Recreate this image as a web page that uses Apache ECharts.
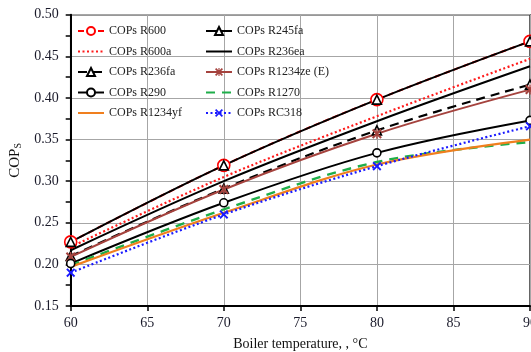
<!DOCTYPE html>
<html><head><meta charset="utf-8">
<script src="https://cdn.jsdelivr.net/npm/echarts@6/dist/echarts.min.js"></script>
<style>html,body{margin:0;padding:0;background:#fff}#c{width:531px;height:352px}</style>
</head><body><div id="c"></div>
<script>
const temps = [60, 70, 80, 90];
const xTicks = [60, 65, 70, 75, 80, 85, 90];
const yTicks = [0.15, 0.20, 0.25, 0.30, 0.35, 0.40, 0.45, 0.50];
const R600    = [0.227, 0.319, 0.398, 0.468];
const R245fa  = [0.227, 0.319, 0.398, 0.468];
const R600a   = [0.221, 0.305, 0.378, 0.447];
const R236ea  = [0.217, 0.300, 0.372, 0.438];
const R236fa  = [0.210, 0.291, 0.361, 0.416];
const R1234ze = [0.209, 0.290, 0.357, 0.410];
const R290    = [0.201, 0.274, 0.334, 0.373];
const R1270   = [0.199, 0.266, 0.323, 0.347];
const R1234yf = [0.197, 0.262, 0.320, 0.350];
const RC318   = [0.190, 0.260, 0.318, 0.366];

const pair = arr => temps.map((t, i) => [t, arr[i]]);
const FONT = 'Liberation Serif';
const XPATH = 'path://M0,1.5L1.5,0L5,3.5L8.5,0L10,1.5L6.5,5L10,8.5L8.5,10L5,6.5L1.5,10L0,8.5L3.5,5Z';
const STAR = 'path://M0,1.5L1.5,0L5,3.5L8.5,0L10,1.5L6.5,5L10,8.5L8.5,10L5,6.5L1.5,10L0,8.5L3.5,5Z M4.3,0L5.7,0L5.7,10L4.3,10Z';

function ser(name, data, color, type, width, symbol, size, hollow) {
  return {
    name: name, type: 'line', data: pair(data), smooth: 0.35,
    showSymbol: !!symbol, symbol: symbol || 'none', symbolSize: size || 0,
    lineStyle: { color: color, width: width, type: type },
    itemStyle: hollow ? { color: '#fff', borderColor: color, borderWidth: 1.6 } : { color: color, borderWidth: 0 },
    emphasis: { disabled: true }, animation: false
  };
}

const series = [
  ser('COPs R600', R600, '#ff0000', [6, 4], 2, 'circle', 12, true),
  ser('COPs R600a', R600a, '#ff1a1a', [2, 2.5], 2.2, null),
  ser('COPs R236ea', R236ea, '#000000', 'solid', 2, null),
  ser('COPs R236fa', R236fa, '#000000', [9, 6], 2.2, 'triangle', 9, true),
  ser('COPs R1234ze (E)', R1234ze, '#a5433e', 'solid', 2, STAR, 10, false),
  ser('COPs R290', R290, '#000000', 'solid', 2, 'circle', 8, true),
  ser('COPs R1270', R1270, '#1fae4a', [9, 7], 2.4, null),
  ser('COPs R1234yf', R1234yf, '#f07f1e', 'solid', 2.2, null),
  ser('COPs RC318', RC318, '#1a1aff', [2, 2.5], 2.2, XPATH, 9, false),
  ser('COPs R245fa', R245fa, '#000000', 'solid', 2, 'triangle', 9, true)
];

const noSym = new Set(['COPs R600a', 'COPs R236ea', 'COPs R1270', 'COPs R1234yf']);
const item = n => noSym.has(n) ? { name: n, itemStyle: { opacity: 0 } } : { name: n };

const legendBase = {
  orient: 'vertical', itemWidth: 26, itemHeight: 10, itemGap: 8.5, padding: 0,
  textStyle: { fontFamily: FONT, fontSize: 12, color: '#222' },
  selectedMode: false, top: 25
};

const chart = echarts.init(document.getElementById('c'), null, { renderer: 'canvas' });
chart.setOption({
  backgroundColor: '#fff',
  animation: false,
  grid: { left: 70.7, right: 1, top: 14.7, bottom: 46, show: true, borderColor: '#333', borderWidth: 1.5,
          backgroundColor: 'transparent', outerBoundsMode: 'none', containLabel: false },
  legend: [
    Object.assign({}, legendBase, { left: 77, data: ['COPs R600', 'COPs R600a', 'COPs R236fa', 'COPs R290', 'COPs R1234yf'].map(item) }),
    Object.assign({}, legendBase, { left: 205, data: ['COPs R245fa', 'COPs R236ea', 'COPs R1234ze (E)', 'COPs R1270', 'COPs RC318'].map(item) })
  ],
  xAxis: {
    type: 'value', min: xTicks[0], max: xTicks[xTicks.length - 1], interval: 5,
    name: 'Boiler temperature, , °C', nameLocation: 'middle', nameGap: 31,
    nameTextStyle: { fontFamily: FONT, fontSize: 14, color: '#111' },
    axisLine: { show: true, onZero: false, lineStyle: { color: '#000', width: 2 } },
    axisTick: { show: true, inside: false, length: 5, lineStyle: { color: '#000', width: 1.5 } },
    axisLabel: { fontFamily: FONT, fontSize: 14, color: '#1a1a2a', margin: 10, showMaxLabel: true },
    splitLine: { show: true, lineStyle: { color: '#a6a6a6', width: 1 } }
  },
  yAxis: {
    type: 'value', min: yTicks[0], max: yTicks[yTicks.length - 1], interval: 0.05,
    name: 'COP{s|S}', nameLocation: 'middle', nameGap: 46, nameRotate: 90,
    nameTextStyle: { fontFamily: FONT, fontSize: 15, color: '#111',
      rich: { s: { fontFamily: FONT, fontSize: 10, verticalAlign: 'bottom', padding: [6, 0, 0, 0], color: '#111' } } },
    axisLine: { show: true, lineStyle: { color: '#000', width: 2 } },
    axisTick: { show: true, inside: false, length: 5, lineStyle: { color: '#000', width: 1.5 } },
    minorTick: { show: true, splitNumber: 2, length: 5, lineStyle: { color: '#000', width: 1.5 } },
    axisLabel: { fontFamily: FONT, fontSize: 14, color: '#1a1a2a', margin: 12, formatter: v => v.toFixed(2) },
    splitLine: { show: true, lineStyle: { color: '#a6a6a6', width: 1 } }
  },
  series: series
});
</script></body></html>
